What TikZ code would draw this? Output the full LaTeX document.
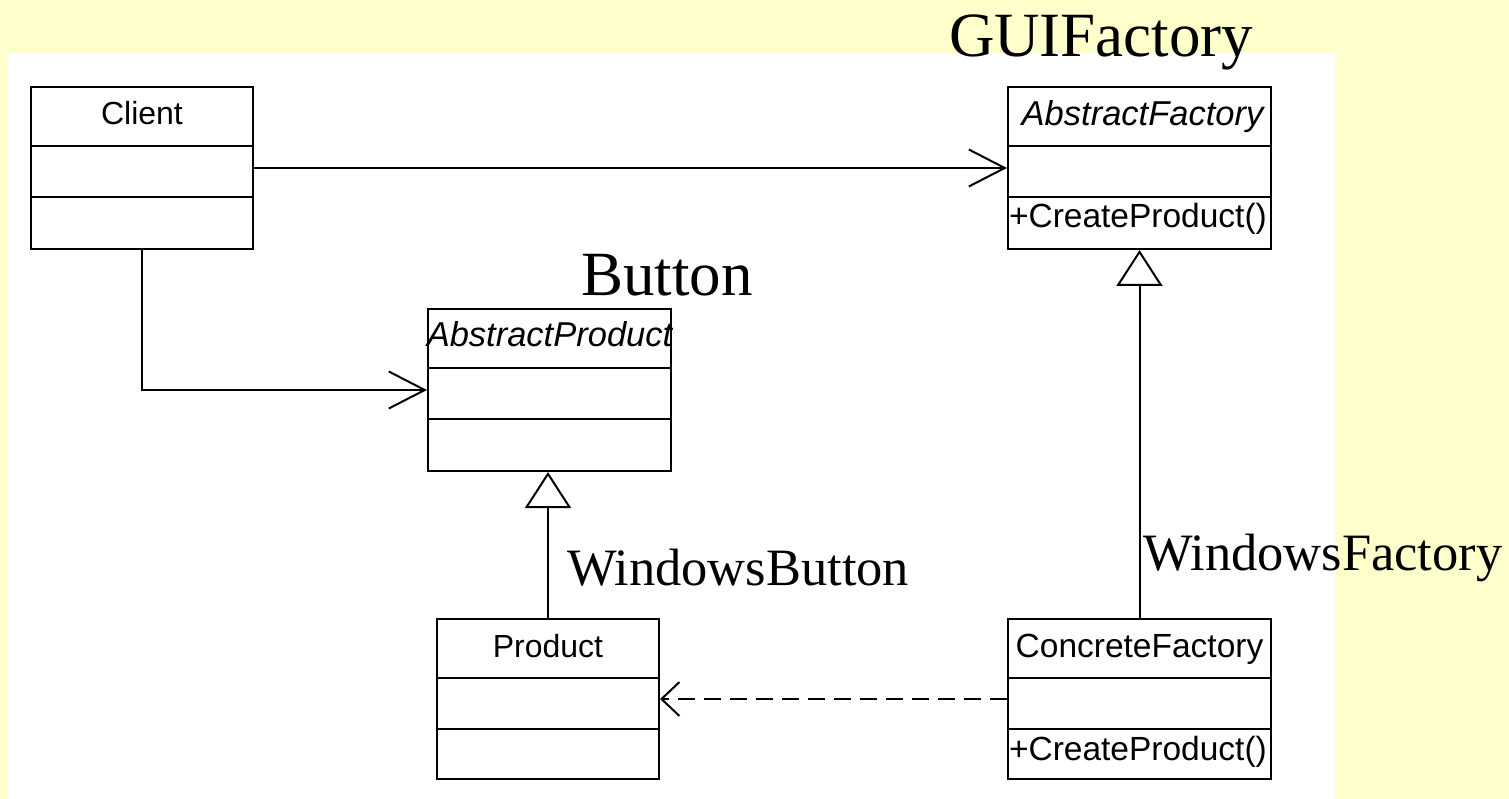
\documentclass[tikz,border=0pt]{standalone}
\usepackage{fontspec}
\setmainfont{Liberation Serif}
\setsansfont{Liberation Sans}
\usetikzlibrary{arrows.meta}
\definecolor{slideyellow}{RGB}{255,255,204}

\begin{document}
\begin{tikzpicture}[x=1pt,y=1pt,line width=2pt,
    classbox/.style={draw, rectangle, inner sep=0pt, anchor=north west, minimum height=162pt},
    classname/.style={anchor=base, inner sep=0pt, font=\sffamily\fontsize{32}{32}\selectfont},
    abstractname/.style={anchor=base, inner sep=0pt, font=\sffamily\itshape\fontsize{34.5}{34.5}\selectfont},
    operation/.style={anchor=base west, inner sep=0pt, font=\sffamily\fontsize{33.5}{33.5}\selectfont},
    biglabel/.style={anchor=base west, inner sep=0pt, font=\fontsize{63}{63}\selectfont},
    midlabel/.style={anchor=base west, inner sep=0pt, font=\fontsize{52.5}{52.5}\selectfont},
    assoc/.style={-{Straight Barb[length=36pt,width=37pt]}},
    realize/.style={dash pattern=on 17pt off 9pt, -{Straight Barb[length=18pt,width=34pt]}},
    inherit/.style={-{Triangle[open,length=36pt,width=46pt]}}]
  % slide background
  \fill[slideyellow] (0,0) rectangle (1509,-799);
  \fill[white] (8,-53) rectangle (1335,-799);

  % classes
  \node[classbox, minimum width=222pt] (client)   at (30,-86)   {};
  \node[classbox, minimum width=263pt] (afactory) at (1007,-86) {};
  \node[classbox, minimum width=243pt] (aproduct) at (427,-308) {};
  \node[classbox, minimum width=222pt, minimum height=160pt] (product)  at (436,-618)  {};
  \node[classbox, minimum width=263pt, minimum height=160pt] (cfactory) at (1007,-618) {};

  \foreach \cls in {client,afactory,aproduct,product,cfactory} {
    \draw ([yshift=-60pt]\cls.north west) -- ([yshift=-60pt]\cls.north east);
    \draw ([yshift=-111pt]\cls.north west) -- ([yshift=-111pt]\cls.north east);
  }

  \node[classname]    (clientname)   at ([yshift=-39pt]client.north)   {Client};
  \node[abstractname] (afactoryname) at ([xshift=3pt,yshift=-40pt]afactory.north) {AbstractFactory};
  \node[abstractname] (aproductname) at ([yshift=-38pt]aproduct.north) {AbstractProduct};
  \node[classname]    (productname)  at ([yshift=-39pt]product.north)  {Product};
  \node[classname, font=\sffamily\fontsize{33.5}{33.5}\selectfont]
                      (cfactoryname) at ([yshift=-39pt]cfactory.north) {ConcreteFactory};
  \node[operation] (afactoryop) at ([xshift=1pt,yshift=-142pt]afactory.north west) {+CreateProduct()};
  \node[operation] (cfactoryop) at ([xshift=1pt,yshift=-142pt]cfactory.north west) {+CreateProduct()};

  % relations
  \draw[assoc] (client.east) -- (afactory.west);
  \draw[assoc] (client.south) |- (aproduct.west);
  \draw[inherit] (product.north) -- (product.north |- aproduct.south);
  \draw[inherit] (cfactory.north) -- (cfactory.north |- afactory.south);
  \draw[realize] (cfactory.west) -- (product.east);

  % slide labels
  \node[biglabel] (guifactory)     at (948,-57)  {GUIFactory};
  \node[biglabel] (button)         at (580,-296) {Button};
  \node[midlabel] (windowsbutton)  at (566,-585) {WindowsButton};
  \node[midlabel] (windowsfactory) at (1142,-570) {WindowsFactory};
\end{tikzpicture}
\end{document}
